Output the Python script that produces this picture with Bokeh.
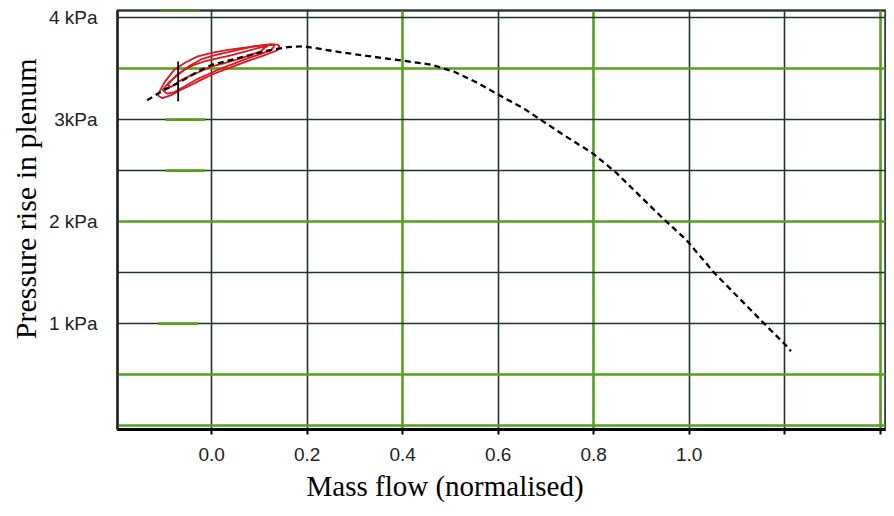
from bokeh.plotting import figure
from bokeh.models import FixedTicker, Grid, Range1d, Title
from bokeh.embed import file_html
from bokeh.resources import INLINE

# ---------------- data ----------------
# characteristic curve (dashed)
curve_x = [-0.135, -0.10, -0.07, -0.029, 0.002, 0.054, 0.11, 0.159, 0.193, 0.271,
           0.333, 0.397, 0.459, 0.508, 0.557, 0.61, 0.65, 0.737, 0.798, 0.847,
           0.941, 0.994, 1.052, 1.157, 1.20, 1.213]
curve_y = [3.19, 3.29, 3.36, 3.47, 3.54, 3.60, 3.67, 3.71, 3.72, 3.66,
           3.62, 3.58, 3.54, 3.47, 3.36, 3.22, 3.12, 2.85, 2.67, 2.48,
           2.05, 1.82, 1.50, 1.00, 0.80, 0.73]

# surge cycles (red loops)
loop1_x = [-0.113, -0.098, -0.078, -0.055, -0.029, 0.005, 0.035, 0.061, 0.095, 0.124,
           0.138, 0.142, 0.138, 0.110, 0.085, 0.061, 0.033, 0.005, -0.020, -0.043,
           -0.065, -0.085, -0.103, -0.113]
loop1_y = [3.24, 3.37, 3.49, 3.56, 3.62, 3.66, 3.685, 3.70, 3.72, 3.74,
           3.735, 3.72, 3.68, 3.63, 3.59, 3.55, 3.50, 3.45, 3.395, 3.34,
           3.29, 3.24, 3.21, 3.24]
loop2_x = [-0.092, -0.075, -0.057, -0.035, -0.015, 0.012, 0.040, 0.068, 0.096, 0.112,
           0.117, 0.110, 0.103, 0.080, 0.054, 0.027, -0.001, -0.025, -0.050, -0.070,
           -0.085, -0.092]
loop2_y = [3.34, 3.43, 3.49, 3.54, 3.57, 3.60, 3.63, 3.665, 3.70, 3.715,
           3.72, 3.70, 3.67, 3.63, 3.59, 3.555, 3.52, 3.47, 3.42, 3.37,
           3.32, 3.34]
loop3_x = [-0.103, -0.088, -0.068, -0.045, -0.022, 0.005, 0.033, 0.060, 0.089, 0.112,
           0.131, 0.130, 0.124, 0.100, 0.075, 0.047, 0.019, -0.005, -0.029, -0.055,
           -0.078, -0.093, -0.103]
loop3_y = [3.29, 3.37, 3.45, 3.53, 3.59, 3.63, 3.66, 3.69, 3.72, 3.73,
           3.73, 3.71, 3.68, 3.64, 3.60, 3.55, 3.50, 3.45, 3.40, 3.33,
           3.27, 3.255, 3.29]

# operating point marker
marker_x = [-0.07]
marker_y0 = [3.18]
marker_y1 = [3.57]

# short green pieces on the left of some dark rules
patch_x0 = [-0.096, -0.096, -0.112, -0.108]
patch_x1 = [-0.014, -0.014, -0.029, -0.024]
patch_y = [3.0, 2.5, 1.0, 4.07]

# axes
x_tick_values = [-0.2, 0.0, 0.2, 0.4, 0.6, 0.8, 1.0, 1.2, 1.4]
x_tick_labels = ["", "0.0", "0.2", "0.4", "0.6", "0.8", "1.0", "", ""]
y_tick_values = [1, 2, 3, 4]
y_tick_labels = ["1 kPa", "2 kPa", "3kPa", "4 kPa"]

grid_x_dark = [0.0, 0.2, 0.6, 1.0, 1.2]
grid_x_green = [0.4, 0.8, 1.4]
grid_y_dark = [1.0, 1.5, 2.5, 3.0, 4.0]
grid_y_green = [0.0, 0.5, 2.0, 3.5]

x_title = "Mass flow (normalised)"
y_title = "Pressure rise in plenum"

# ---------------- figure ----------------
DARK = "#1f3527"
GREEN = "#56a01c"

p = figure(width=886, height=508, output_backend="svg", toolbar_location=None,
           x_range=Range1d(-0.197, 1.411), y_range=Range1d(-0.038, 4.07),
           min_border_left=117, min_border_right=1, min_border_top=10,
           min_border_bottom=79)
p.background_fill_color = "white"
p.border_fill_color = "white"
p.outline_line_color = "#2f3b3f"
p.outline_line_width = 2.5

p.xgrid.visible = False
p.ygrid.visible = False

for ticks, color, width, dim in [
    (grid_x_dark, DARK, 1.6, 0), (grid_x_green, GREEN, 2.6, 0),
    (grid_y_dark, DARK, 1.6, 1), (grid_y_green, GREEN, 2.6, 1)]:
    g = Grid(dimension=dim, ticker=FixedTicker(ticks=ticks),
             grid_line_color=color, grid_line_width=width)
    p.add_layout(g)

# x axis
xa = p.xaxis[0]
xa.ticker = FixedTicker(ticks=x_tick_values)
xa.major_label_overrides = {v: s for v, s in zip(x_tick_values, x_tick_labels)}
xa.axis_line_color = "black"
xa.axis_line_width = 3
xa.major_tick_line_color = "black"
xa.major_tick_line_width = 2
xa.major_tick_out = 5
xa.major_tick_in = 0
xa.minor_tick_line_color = None
xa.major_label_standoff = 13
xa.major_label_text_font = "Liberation Sans"
xa.major_label_text_font_size = "19px"
xa.major_label_text_color = "#222222"

# y axis
ya = p.yaxis[0]
ya.ticker = FixedTicker(ticks=y_tick_values)
ya.major_label_overrides = {v: s for v, s in zip(y_tick_values, y_tick_labels)}
ya.axis_line_color = "#222222"
ya.axis_line_width = 2
ya.major_tick_line_color = None
ya.major_tick_out = 0
ya.major_tick_in = 0
ya.minor_tick_line_color = None
ya.major_label_standoff = 20
ya.major_label_text_font = "Liberation Sans"
ya.major_label_text_font_size = "19px"
ya.major_label_text_color = "#222222"

# green pieces
p.segment(x0=patch_x0, y0=patch_y, x1=patch_x1, y1=patch_y,
          line_color=GREEN, line_width=2.6)

# red surge loops
for lx, ly in [(loop1_x, loop1_y), (loop2_x, loop2_y), (loop3_x, loop3_y)]:
    p.line(lx, ly, line_color="#e0141e", line_width=1.8, line_join="round")

# dashed characteristic
p.line(curve_x, curve_y, line_color="black", line_width=2.3, line_dash="6 4")

# operating point marker
p.segment(x0=marker_x, y0=marker_y0, x1=marker_x, y1=marker_y1,
          line_color="black", line_width=1.8)

# titles
p.add_layout(Title(text=x_title, align="left", offset=189, standoff=8,
                   text_font="Liberation Serif", text_font_size="29px",
                   text_font_style="normal", text_color="black"), "below")
p.add_layout(Title(text=y_title, align="right", offset=48, standoff=8,
                   text_font="Liberation Serif", text_font_size="30px",
                   text_font_style="normal", text_color="black"), "left")

open("out.html", "w").write(file_html(p, INLINE))
